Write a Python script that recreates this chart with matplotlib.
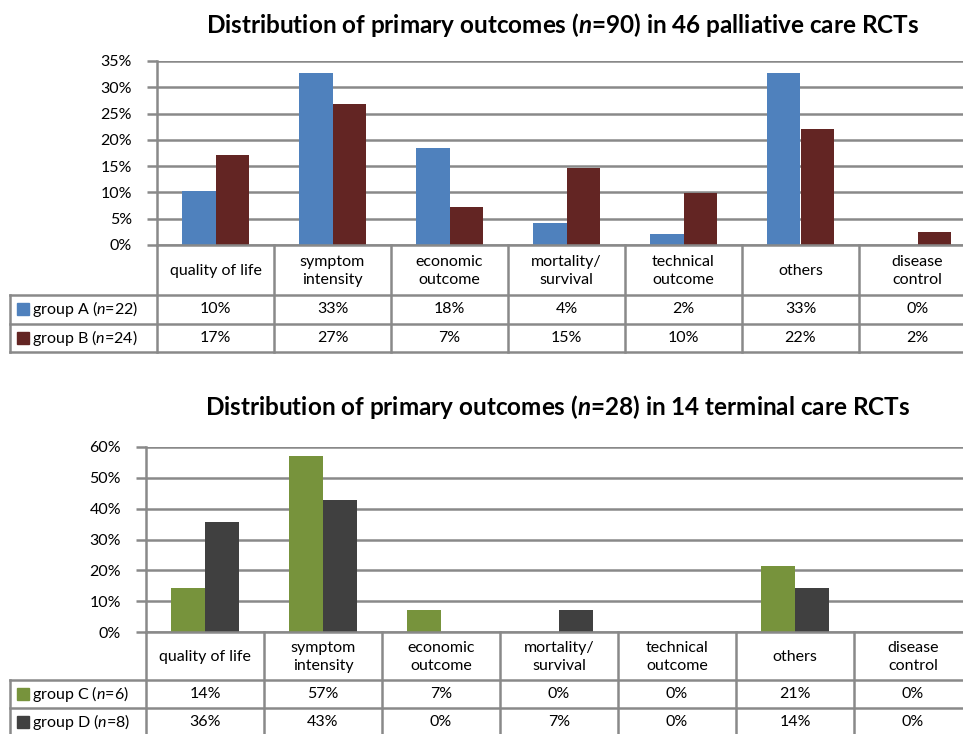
import matplotlib.pyplot as plt
from matplotlib.patches import Rectangle
import numpy as np

plt.rcParams['font.family'] = ['Lato', 'DejaVu Sans']
plt.rcParams['mathtext.fontset'] = 'custom'
plt.rcParams['mathtext.rm'] = 'Lato'
plt.rcParams['mathtext.it'] = 'Lato:italic'
plt.rcParams['mathtext.bf'] = 'Lato:bold'
plt.rcParams['mathtext.bfit'] = 'Lato:bold:italic'

# outcome categories shared by both charts
categories = ["quality of life", "symptom\nintensity", "economic\noutcome",
              "mortality/\nsurvival", "technical\noutcome", "others",
              "disease\ncontrol"]

# share of primary outcomes per group (%)
group_a = [10.2, 32.7, 18.4, 4.1, 2.0, 32.7, 0.0]
group_b = [17.1, 26.8, 7.3, 14.6, 9.8, 22.0, 2.4]
group_c = [14.3, 57.1, 7.1, 0.0, 0.0, 21.4, 0.0]
group_d = [35.7, 42.9, 0.0, 7.1, 0.0, 14.3, 0.0]

names_top = [r"group A ($n$=22)", r"group B ($n$=24)"]
names_bottom = [r"group C ($n$=6)", r"group D ($n$=8)"]

title_top = r"Distribution of primary outcomes ($\mathbfit{n}$=90) in 46 palliative care RCTs"
title_bottom = r"Distribution of primary outcomes ($\mathbfit{n}$=28) in 14 terminal care RCTs"

W, H = 963, 734
grid_c = "#898989"
fs = 11.5
fig = plt.figure(figsize=(W / 100, H / 100), dpi=100)


def px_rect(x0, y0, x1, y1):
    return [x0 / W, 1 - y1 / H, (x1 - x0) / W, (y1 - y0) / H]


def draw_panel(title, title_xy, series, names, colors, ymax, ystep,
               axis_x, col_w, plot_top, rows, table_left):
    n = len(categories)
    right = axis_x + n * col_w
    zero_y = rows[0]

    # bar chart
    ax = fig.add_axes(px_rect(axis_x, plot_top, right, zero_y))
    x = np.arange(n)
    w = 0.287
    for i, (vals, c) in enumerate(zip(series, colors)):
        ax.bar(x + (i - 0.5) * w, vals, w, color=c, zorder=3)
    ax.set_xlim(-0.5, n - 0.5)
    ax.set_ylim(0, ymax)
    ax.set_yticks(np.arange(0, ymax + 0.1, ystep))
    ax.yaxis.set_major_formatter(lambda v, p: f"{v:.0f}%")
    ax.grid(axis='y', color=grid_c, lw=1.8, zorder=0)
    for s in ['top', 'right', 'bottom']:
        ax.spines[s].set_visible(False)
    ax.spines['left'].set_color(grid_c)
    ax.spines['left'].set_linewidth(1.8)
    ax.tick_params(axis='y', length=7, width=1.8, color=grid_c,
                   labelsize=fs, pad=11)
    ax.tick_params(axis='x', bottom=False, labelbottom=False)

    fig.text(title_xy[0] / W, 1 - title_xy[1] / H, title, ha='center',
             va='center', fontsize=17.5, fontweight='bold')

    # data table below the bars
    tab = fig.add_axes(px_rect(table_left, zero_y, right, rows[-1]))
    x_left = -0.5 - (axis_x - table_left) / col_w
    tab.set_xlim(x_left, n - 0.5)
    tab.set_ylim(rows[-1], zero_y)
    tab.axis('off')

    line = dict(color=grid_c, lw=1.8, clip_on=False, solid_capstyle='projecting')
    for k in range(n + 1):
        tab.plot([k - 0.5, k - 0.5], [rows[0], rows[-1]], **line)
    tab.plot([-0.5, n - 0.5], [rows[0], rows[0]], **line)
    for r in rows[1:]:
        tab.plot([x_left, n - 0.5], [r, r], **line)
    tab.plot([x_left, x_left], [rows[1], rows[-1]], **line)

    for k, cat in enumerate(categories):
        tab.text(k, (rows[0] + rows[1]) / 2 + 1, cat, ha='center', va='center',
                 fontsize=fs, linespacing=1.45)

    for i, (vals, name, c) in enumerate(zip(series, names, colors)):
        ymid = (rows[i + 1] + rows[i + 2]) / 2
        tab.add_patch(Rectangle((x_left + 7 / col_w, ymid - 6), 12 / col_w, 12,
                                color=c, clip_on=False))
        tab.text(x_left + 22 / col_w, ymid, name, ha='left', va='center',
                 fontsize=fs)
        for k, v in enumerate(vals):
            tab.text(k, ymid, f"{v:.0f}%", ha='center', va='center',
                     fontsize=fs)


draw_panel(title_top, (563, 25), [group_a, group_b], names_top,
           ["#4F81BD", "#632523"], 35, 5,
           157, 117, 61, [245, 295, 324, 352], 10)

draw_panel(title_bottom, (558, 407), [group_c, group_d], names_bottom,
           ["#77933C", "#404040"], 60, 10,
           146, 118, 447, [632, 680, 708, 736], 10)

fig.savefig("out.png", dpi=100)
